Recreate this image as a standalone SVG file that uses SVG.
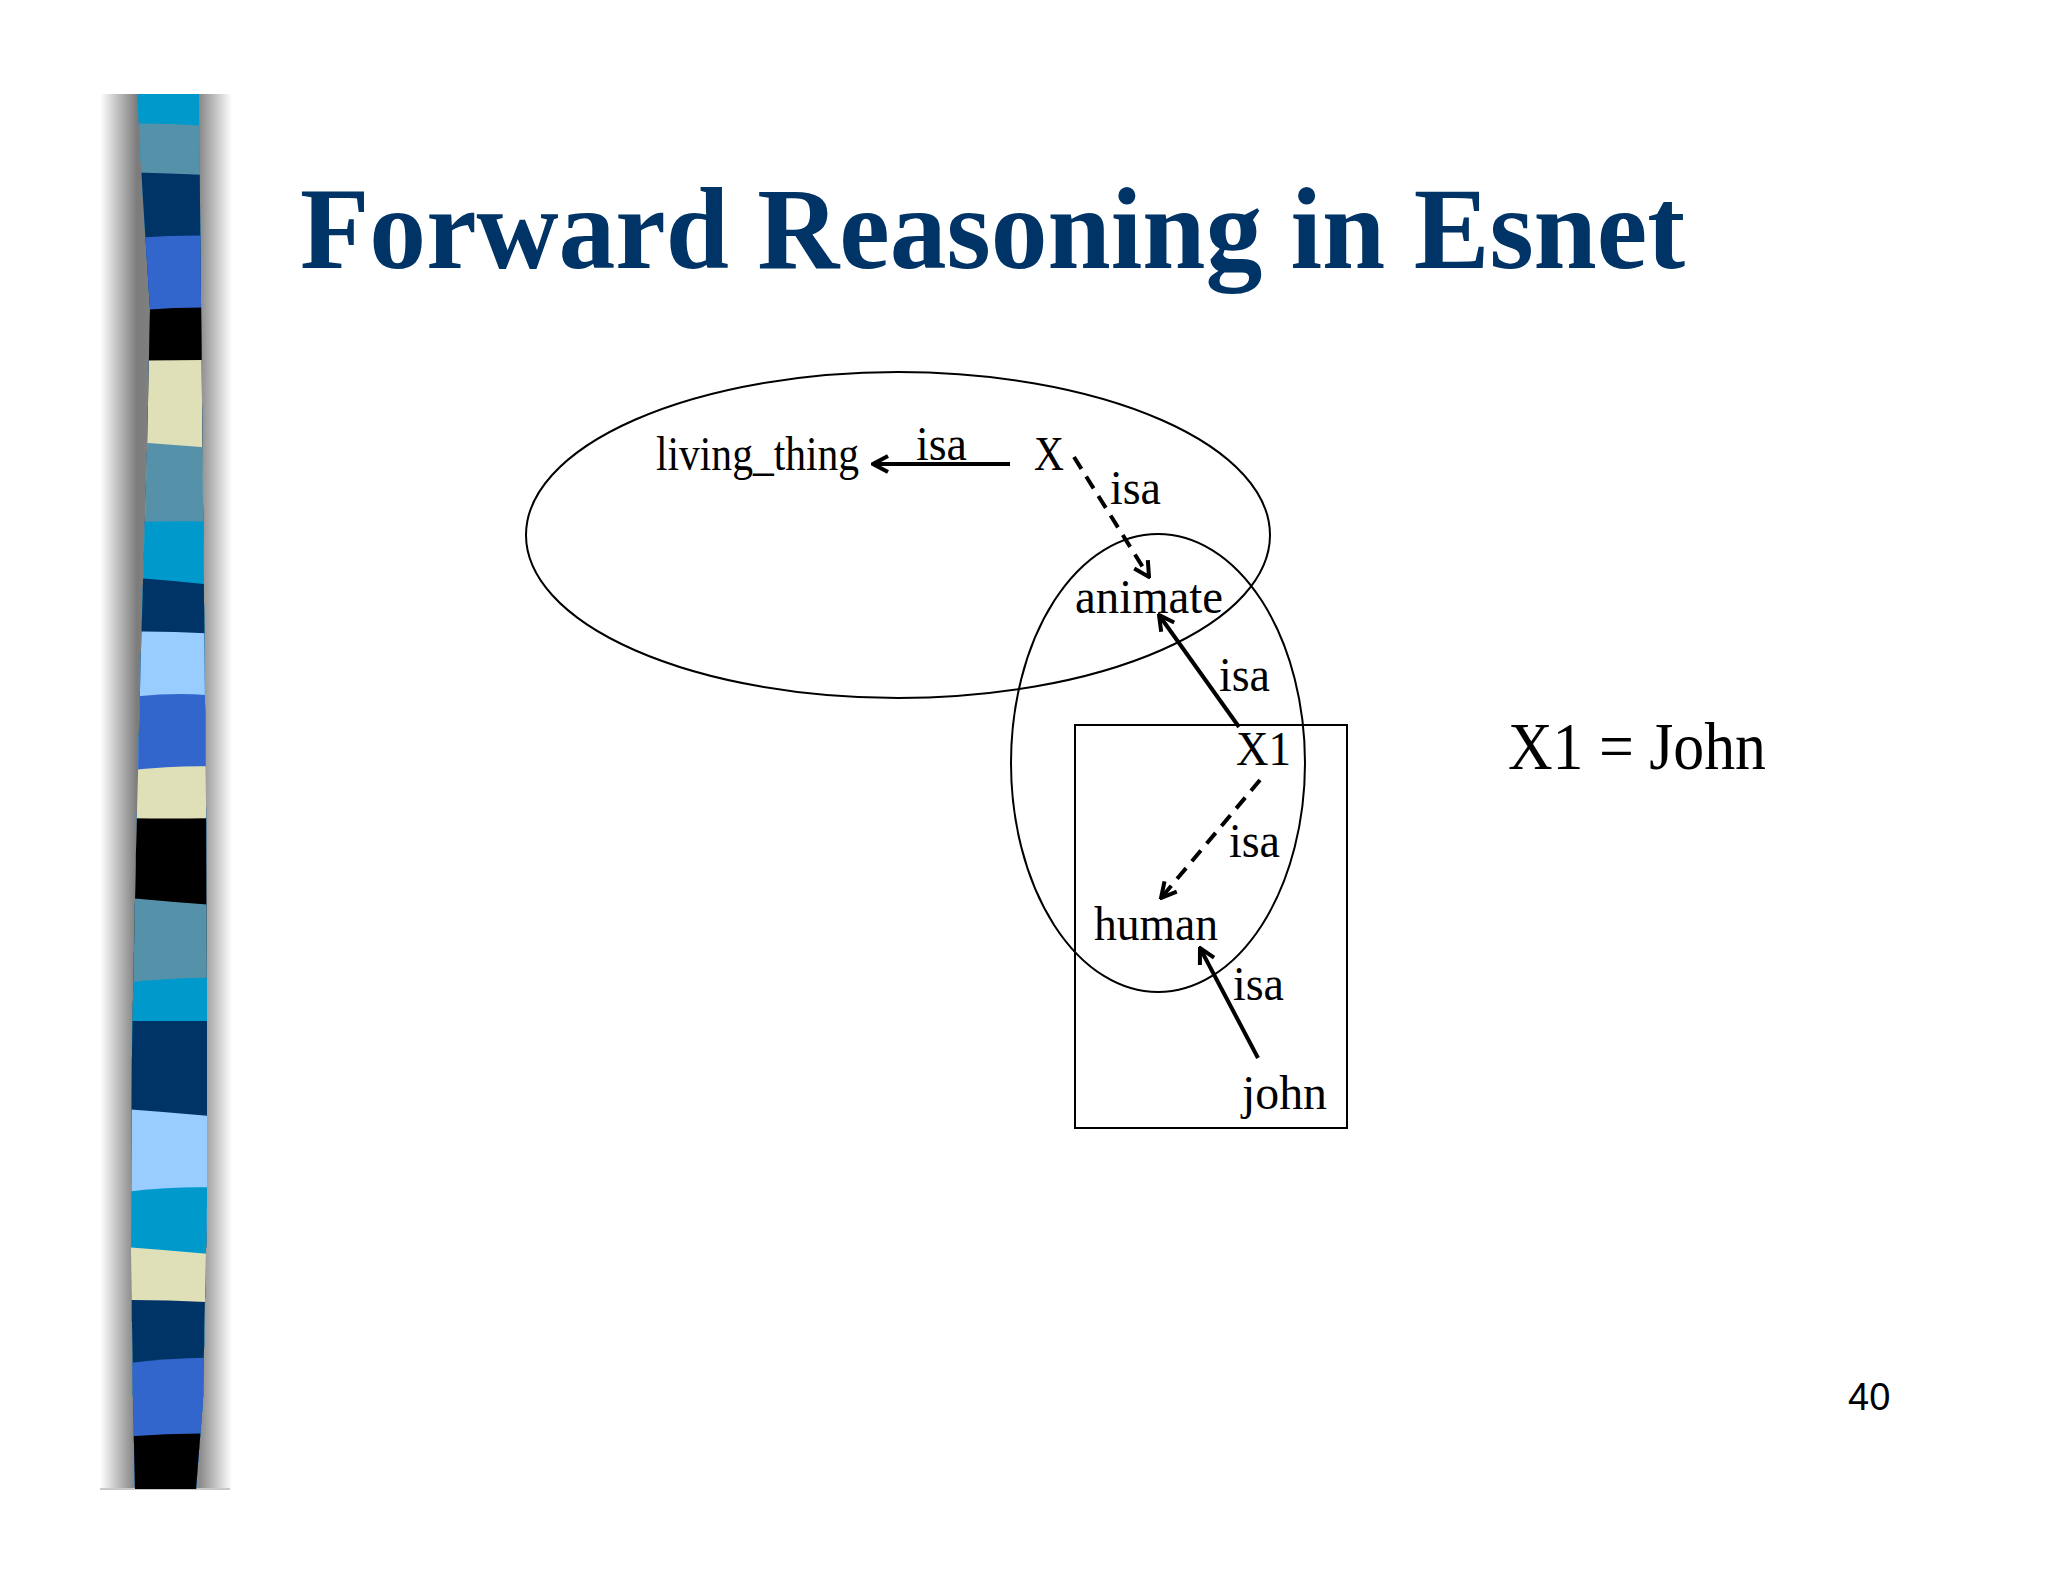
<svg xmlns="http://www.w3.org/2000/svg" width="2048" height="1582" viewBox="0 0 2048 1582">
<style>
.t{font-family:"Liberation Serif","Times New Roman",serif;fill:#000}
.n{font-size:48px}
.ctx{fill:none;stroke:#000;stroke-width:2}
.e{fill:none;stroke:#000;stroke-width:4}
.d{stroke-dasharray:14 9}
</style>
<defs>
<marker id="arr" viewBox="0 0 20 20" refX="18" refY="10" markerWidth="20" markerHeight="20" markerUnits="userSpaceOnUse" orient="auto">
<path d="M3,2 L18,10 L3,18" fill="none" stroke="#000" stroke-width="4"/>
</marker>
<linearGradient id="sh" x1="0" y1="0" x2="1" y2="0">
<stop offset="0" stop-color="#fff"/>
<stop offset="0.28" stop-color="#7c7c7c"/>
<stop offset="0.76" stop-color="#8c8c8c"/>
<stop offset="1" stop-color="#fff"/>
</linearGradient>
<clipPath id="bar">
<path d="M137,94 L143,200 L150,310 L147,450 L141,650 L136,850 L132,1050 L131,1250 L133,1400 L135,1489 L196,1489 L203,1400 L207,1200 L207,1000 L206,800 L204,600 L202,400 L200,200 L199,94 Z"/>
</clipPath>
</defs>
<rect width="2048" height="1582" fill="#fff"/>
<g id="sidebar">
<rect x="100" y="94" width="132" height="1395" fill="url(#sh)"/>
<line x1="100" y1="1489" x2="230" y2="1489" stroke="#c8c8c8" stroke-width="2"/>
<g clip-path="url(#bar)">
<path d="M110,94 L230,94 L230,1490 L110,1490 Z" fill="#0099cc"/>
<path d="M110,124 Q170,122 230,128 L230,1490 L110,1490 Z" fill="#5592aa"/>
<path d="M110,172 Q170,173 230,176 L230,1490 L110,1490 Z" fill="#003366"/>
<path d="M110,240 Q170,234 230,236 L230,1490 L110,1490 Z" fill="#3366cc"/>
<path d="M110,313 Q170,306 230,308 L230,1490 L110,1490 Z" fill="#000"/>
<path d="M110,361 Q170,360 230,360 L230,1490 L110,1490 Z" fill="#e0e0b8"/>
<path d="M110,440 Q170,445 230,449 L230,1490 L110,1490 Z" fill="#5592aa"/>
<path d="M110,523 Q170,520 230,522 L230,1490 L110,1490 Z" fill="#0099cc"/>
<path d="M110,576 Q170,580 230,587 L230,1490 L110,1490 Z" fill="#003366"/>
<path d="M110,632 Q170,630 230,635 L230,1490 L110,1490 Z" fill="#99ccff"/>
<path d="M110,700 Q170,690 230,697 L230,1490 L110,1490 Z" fill="#3366cc"/>
<path d="M110,773 Q170,764 230,767 L230,1490 L110,1490 Z" fill="#e0e0b8"/>
<path d="M110,818 Q170,819 230,818 L230,1490 L110,1490 Z" fill="#000"/>
<path d="M110,896 Q170,902 230,906 L230,1490 L110,1490 Z" fill="#5592aa"/>
<path d="M110,985 Q170,976 230,978 L230,1490 L110,1490 Z" fill="#0099cc"/>
<path d="M110,1021 Q170,1021 230,1021 L230,1490 L110,1490 Z" fill="#003366"/>
<path d="M110,1108 Q170,1112 230,1118 L230,1490 L110,1490 Z" fill="#99ccff"/>
<path d="M110,1194 Q170,1185 230,1188 L230,1490 L110,1490 Z" fill="#0099cc"/>
<path d="M110,1246 Q170,1250 230,1256 L230,1490 L110,1490 Z" fill="#e0e0b8"/>
<path d="M110,1300 Q170,1300 230,1303 L230,1490 L110,1490 Z" fill="#003366"/>
<path d="M110,1366 Q170,1356 230,1358 L230,1490 L110,1490 Z" fill="#3366cc"/>
<path d="M110,1438 Q170,1432 230,1434 L230,1490 L110,1490 Z" fill="#000"/>
</g>
</g>
<g id="title">
<text x="300" y="268" font-family="Liberation Serif,'Times New Roman',serif" font-weight="bold" font-size="116" fill="#003366" textLength="1385" lengthAdjust="spacingAndGlyphs">Forward Reasoning in Esnet</text>
</g>
<g id="contexts">
<ellipse id="ctx-outer" class="ctx" cx="898" cy="535" rx="372" ry="163"/>
<ellipse id="ctx-mid" class="ctx" cx="1158" cy="763" rx="147" ry="229"/>
<rect id="ctx-inner" class="ctx" x="1075" y="725" width="272" height="403"/>
</g>
<g id="connectors">
<line class="e" x1="1010" y1="464" x2="873" y2="464" marker-end="url(#arr)"/>
<line class="e d" x1="1074" y1="457" x2="1149" y2="577" marker-end="url(#arr)"/>
<line class="e" x1="1239" y1="727" x2="1159" y2="615" marker-end="url(#arr)"/>
<line class="e d" x1="1260" y1="780" x2="1161" y2="898" marker-end="url(#arr)"/>
<line class="e" x1="1258" y1="1058" x2="1200" y2="948" marker-end="url(#arr)"/>
<text class="t n" x="916" y="460" textLength="51" lengthAdjust="spacingAndGlyphs">isa</text>
<text class="t n" x="1110" y="504" textLength="51" lengthAdjust="spacingAndGlyphs">isa</text>
<text class="t n" x="1219" y="691" textLength="51" lengthAdjust="spacingAndGlyphs">isa</text>
<text class="t n" x="1229" y="857" textLength="51" lengthAdjust="spacingAndGlyphs">isa</text>
<text class="t n" x="1233" y="1000" textLength="51" lengthAdjust="spacingAndGlyphs">isa</text>
</g>
<g id="node-living_thing"><text class="t n" x="656" y="470" textLength="203" lengthAdjust="spacingAndGlyphs">living_thing</text></g>
<g id="node-X"><text class="t n" x="1034" y="470" textLength="30" lengthAdjust="spacingAndGlyphs">X</text></g>
<g id="node-animate"><text class="t n" x="1075" y="613" textLength="148" lengthAdjust="spacingAndGlyphs">animate</text></g>
<g id="node-X1"><text class="t n" x="1236" y="765" textLength="55" lengthAdjust="spacingAndGlyphs">X1</text></g>
<g id="node-human"><text class="t n" x="1094" y="940" textLength="124" lengthAdjust="spacingAndGlyphs">human</text></g>
<g id="node-john"><text class="t n" x="1242" y="1109" textLength="85" lengthAdjust="spacingAndGlyphs">john</text></g>
<g id="binding"><text class="t" x="1508" y="769" font-size="68" textLength="258" lengthAdjust="spacingAndGlyphs">X1 = John</text></g>
<g id="page-number"><text x="1848" y="1410" font-family="Liberation Sans,Arial,sans-serif" font-size="38" fill="#000">40</text></g>
</svg>
